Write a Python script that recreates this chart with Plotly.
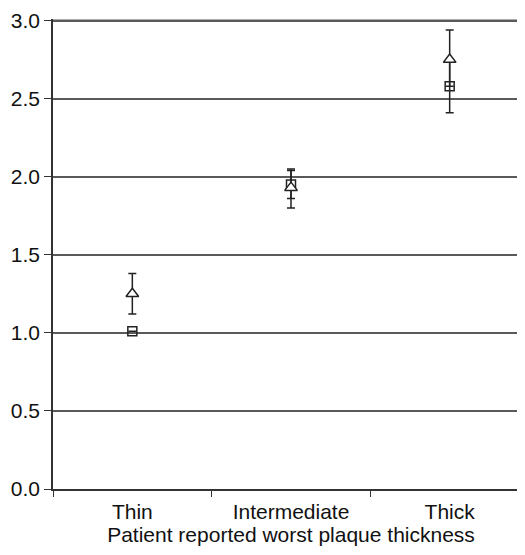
import plotly.graph_objects as go

categories = ["Thin", "Intermediate", "Thick"]
tri_values = [1.25, 1.93, 2.75]
tri_upper = [1.38, 2.05, 2.94]
tri_lower = [1.12, 1.86, 2.58]
sq_values = [1.01, 1.95, 2.58]
sq_upper = [1.01, 2.04, 2.75]
sq_lower = [1.01, 1.80, 2.41]
y_ticks = [0.0, 0.5, 1.0, 1.5, 2.0, 2.5, 3.0]
x_title = "Patient reported worst plaque thickness"

def errs(vals, up, lo):
    return ([u - v for u, v in zip(up, vals)], [v - l for v, l in zip(vals, lo)])

tp, tm = errs(tri_values, tri_upper, tri_lower)
sp, sm = errs(sq_values, sq_upper, sq_lower)

fig = go.Figure()
fig.add_trace(go.Scatter(
    x=categories, y=sq_values, mode="markers",
    marker=dict(symbol="square-open", size=9, color="#222", line=dict(width=1.5, color="#222")),
    error_y=dict(type="data", symmetric=False, array=sp, arrayminus=sm,
                 color="#222", thickness=1.5, width=4),
    showlegend=False,
))
fig.add_trace(go.Scatter(
    x=categories, y=tri_values, mode="markers",
    marker=dict(symbol="triangle-up", size=11, color="white", line=dict(width=1.5, color="#222")),
    error_y=dict(type="data", symmetric=False, array=tp, arrayminus=tm,
                 color="#222", thickness=1.5, width=4),
    showlegend=False,
))

# top gridline at the last tick value (plotly hides it at the range edge)
fig.add_hline(y=y_ticks[-1], line_color="#5a5a5a", line_width=2, layer="below")

fig.update_layout(
    width=525, height=555,
    margin=dict(l=45, r=4, t=11, b=74),
    paper_bgcolor="white", plot_bgcolor="white",
    font=dict(family="Liberation Sans, Arial, sans-serif", size=21, color="#111"),
    xaxis=dict(
        type="category", range=[-0.5, 2.5], automargin=False,
        tickson="boundaries", ticks="outside", ticklen=6, tickwidth=1, tickcolor="#333",
        showgrid=False, showline=True, linecolor="#333", linewidth=1.5,
        title=dict(text=x_title, font=dict(size=21), standoff=4),
        tickfont=dict(size=21), ticklabelstandoff=3,
    ),
    yaxis=dict(
        range=[0, 3.01], tickvals=y_ticks, ticktext=[f"{v:.1f}" for v in y_ticks],
        automargin=False,
        ticks="outside", ticklen=7, tickwidth=1, tickcolor="#333",
        showgrid=True, gridcolor="#5a5a5a", gridwidth=2,
        showline=True, linecolor="#333", linewidth=1.5,
        zeroline=False, tickfont=dict(size=21), ticklabeloverflow="allow",
    ),
)

fig.write_html("out.html")
